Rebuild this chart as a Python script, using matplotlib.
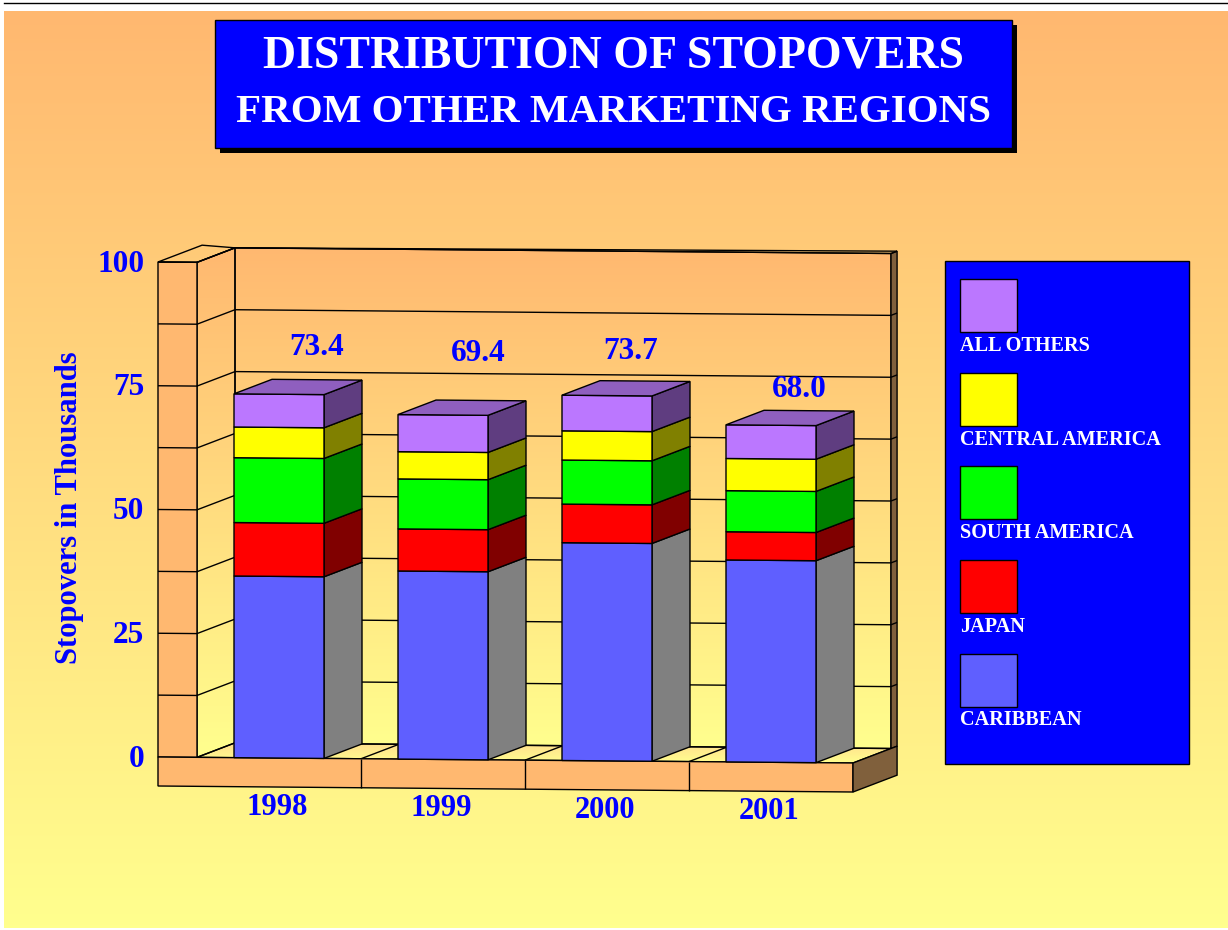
import numpy as np
import matplotlib
matplotlib.use("Agg")
import matplotlib.pyplot as plt
from matplotlib.colors import LinearSegmentedColormap
from matplotlib.patches import Polygon, Rectangle

# ---- data ----
years = ["1998", "1999", "2000", "2001"]
totals = ["73.4", "69.4", "73.7", "68.0"]
caribbean = [36.7, 38.0, 44.0, 40.8]
japan = [10.8, 8.5, 7.8, 5.7]
south_america = [13.1, 10.1, 8.9, 8.3]
central_america = [6.2, 5.5, 5.9, 6.5]
all_others = [6.7, 7.5, 7.2, 6.8]
series_names = ["CARIBBEAN", "JAPAN", "SOUTH AMERICA", "CENTRAL AMERICA", "ALL OTHERS"]
y_ticks = [0, 25, 50, 75, 100]
grid_values = [12.5, 25, 37.5, 50, 62.5, 75, 87.5, 100]

series = [caribbean, japan, south_america, central_america, all_others]
front_cols = ["#5F5FFF", "#FF0000", "#00FF00", "#FFFF00", "#BB77FF"]
side_cols = ["#808080", "#800000", "#008000", "#808000", "#5F3D80"]
top_col = "#8F5FBF"
BLUE = "#0000FF"
ORANGE = "#FFB870"
PALE = "#FFFF8E"
BROWN = "#80603C"
FONT = "Liberation Serif"

W, H = 1228, 930
fig = plt.figure(figsize=(W / 100, H / 100), dpi=100, facecolor="white")
ax = fig.add_axes([0, 0, 1, 1])
ax.axis("off")
cmap = LinearSegmentedColormap.from_list("bg", [ORANGE, PALE])
grad = np.linspace(0, 1, 512).reshape(-1, 1)


def gradient(x0, x1, y0, y1, clip=None, z=0, cm=cmap):
    im = ax.imshow(grad, extent=(x0, x1, y1, y0), aspect="auto", cmap=cm, zorder=z,
                   interpolation="bilinear", vmin=0, vmax=1)
    if clip is not None:
        patch = Polygon(clip, closed=True, transform=ax.transData)
        im.set_clip_path(patch)
    return im


# projection of (category position, value, depth) to figure pixels
X0, CAT_W = 197.0, 164.0
Y0, TILT, SCALE = 757.0, 6.0 / 695.0, 4.95
DX, DY = 38.0, -14.5


def P(x, v=0.0, d=0.0):
    px = X0 + x * CAT_W
    py = Y0 + (px - 158.0) * TILT - v * SCALE
    return (px + d * DX, py + d * DY)


def poly(pts, fc="none", z=1, lw=1.0, ec="black"):
    ax.add_patch(Polygon(pts, closed=True, facecolor=fc, edgecolor=ec, linewidth=lw, zorder=z,
                         joinstyle="miter"))


def line(a, b, z=2, lw=1.0):
    ax.plot([a[0], b[0]], [a[1], b[1]], color="black", lw=lw, zorder=z, solid_capstyle="butt")


# background
gradient(4, W, 11.5, 928, z=0)
ax.plot([4, W], [3.5, 3.5], color="black", lw=1.0, zorder=1)

# title box
ax.add_patch(Rectangle((220, 25), 797, 128, fc="black", ec="none", zorder=1))
ax.add_patch(Rectangle((215, 20), 797, 128, fc=BLUE, ec="black", lw=1, zorder=2))
title_kw = dict(color="white", family=FONT, weight="bold", ha="center", va="center", zorder=3)
ax.text(613.5, 57, "DISTRIBUTION OF STOPOVERS", fontsize=33, **title_kw)
ax.text(613.5, 113, "FROM OTHER MARKETING REGIONS", fontsize=29.5, **title_kw)

# back wall, inner side wall, floor
n = len(years)
LEFT = -39.0 / CAT_W
back = [P(0, 100, 1), P(n, 100, 1), P(n, 0, 1), P(0, 0, 1)]
gradient(back[0][0], back[1][0], 246, 749, clip=back, z=1)
poly(back, z=2)
side = [P(0, 100, 0), P(0, 100, 1), P(0, 0, 1), P(0, 0, 0)]
gradient(side[0][0], side[1][0], 246, 758, clip=side, z=1)
poly(side, z=2)
floor = [P(0, 0, 0), P(0, 0, 1), P(n, 0, 1), P(n, 0, 0)]
gradient(floor[0][0], floor[2][0], 743, 763, clip=floor, z=1,
         cm=LinearSegmentedColormap.from_list("fl", ["#FFDE8E", PALE]))
poly(floor, z=2)

# left front face
poly([P(LEFT, 100), P(0, 100), P(0, 0), P(LEFT, 0)], fc=ORANGE, z=3)
poly([P(LEFT, 100), P(LEFT, 100, 1.16), P(0, 100, 1), P(0, 100)], fc="none", z=3)

# right thin edge of the wall
poly([P(n, 100, 1), P(n, 100, 1.16), P(n, 0, 1.16), P(n, 0, 1)], fc=BROWN, z=3)
line(P(0, 100, 1), P(n, 100, 1.16), z=3)

# grid lines
for g in grid_values:
    line(P(LEFT, g), P(0, g), z=4)
    line(P(0, g), P(0, g, 1), z=4)
    line(P(0, g, 1), P(n, g, 1), z=4)
    line(P(n, g, 1), P(n, g, 1.16), z=4)

# floor dividers
for i in range(1, n):
    line(P(i, 0), P(i, 0, 1), z=4)

# plinth
PL = 29.0 / SCALE
poly([P(LEFT, 0), P(n, 0), P(n, -PL), P(LEFT, -PL)], fc=ORANGE, z=5)
poly([P(n, 0), P(n, 0, 1.16), P(n, -PL, 1.16), P(n, -PL)], fc=BROWN, z=5)
for i in range(1, n):
    line(P(i, 0), P(i, -PL), z=6)

# stacked 3-D bars
HALF = 45.0 / CAT_W
z = 7
for i in range(n):
    c = i + 0.5
    l, r = c - HALF, c + HALF
    base = 0.0
    for k, vals in enumerate(series):
        top = base + vals[i]
        poly([P(r, base), P(r, base, 1), P(r, top, 1), P(r, top)], fc=side_cols[k], z=z)
        poly([P(l, base), P(r, base), P(r, top), P(l, top)], fc=front_cols[k], z=z)
        base = top
    poly([P(l, base), P(l, base, 1), P(r, base, 1), P(r, base)], fc=top_col, z=z)
    z += 1

# value labels
label_offsets = [(38, -47), (35, -61), (24, -44), (28, -36)]
for i, (t, off) in enumerate(zip(totals, label_offsets)):
    top = sum(s[i] for s in series)
    px, py = P(i + 0.5, top)
    ax.text(px + off[0], py + off[1], t, color=BLUE, family=FONT, weight="bold", fontsize=22.5,
            ha="center", va="center", zorder=20)

# axis text
for v in y_ticks:
    ax.text(144.5, Y0 - v * SCALE + 2, str(v), color=BLUE, family=FONT, weight="bold", fontsize=22.5,
            ha="right", va="center", zorder=20)
for i, y in enumerate(years):
    px, py = P(i + 0.5, -PL)
    ax.text(px - 2, py + 20.5, y, color=BLUE, family=FONT, weight="bold", fontsize=22,
            ha="center", va="center", zorder=20)
ax.text(70, 508, "Stopovers in Thousands", color=BLUE, family=FONT, weight="bold", fontsize=22.1,
        rotation=90, ha="center", va="center", zorder=20)

# legend
ax.add_patch(Rectangle((945, 261), 244, 503, fc=BLUE, ec="black", lw=1, zorder=2))
sw_top = [654, 560, 466, 373, 279]
lab_y = [719.5, 626.5, 532.5, 439.5, 345.5]
for k, name in enumerate(series_names):
    ax.add_patch(Rectangle((960, sw_top[k]), 57, 53, fc=front_cols[k], ec="black", lw=1, zorder=3))
    ax.text(960, lab_y[k], name, color="white", family=FONT, weight="bold", fontsize=14.6,
            ha="left", va="center", zorder=3)

ax.set_xlim(0, W)
ax.set_ylim(H, 0)
fig.savefig("out.png", dpi=100, facecolor="white")
